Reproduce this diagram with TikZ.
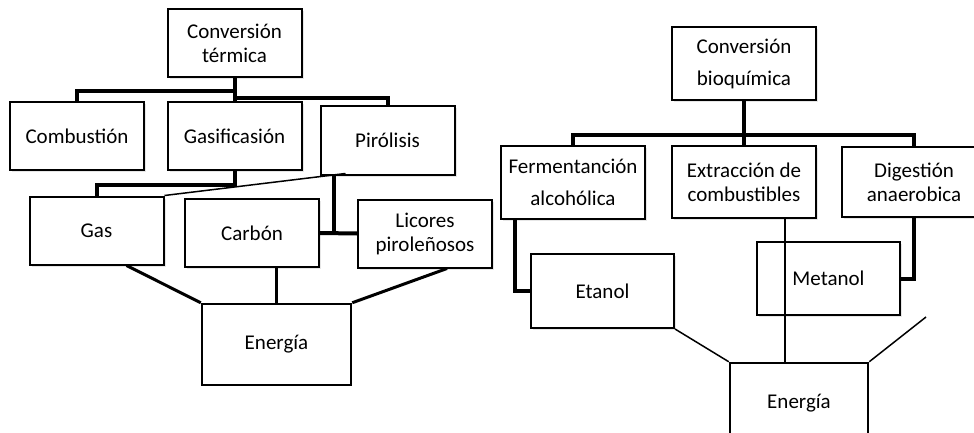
\documentclass[tikz,border=0pt]{standalone}
\usepackage{fontspec}
\setmainfont{Carlito}
\usetikzlibrary{positioning,shadows}

\begin{document}
\begin{tikzpicture}[x=0.5pt, y=-0.5pt,
  boxnode/.style={rectangle, draw=black, line width=1pt, fill=white, align=center,
    minimum width=67pt, minimum height=34pt, inner sep=2pt,
    font=\fontsize{10.5}{12}\selectfont,
    drop shadow={opacity=0.2, shadow xshift=1pt, shadow yshift=-1pt}},
  widebox/.style={boxnode, font=\fontsize{10.5}{16}\selectfont},
  energynode/.style={rectangle, draw=black, line width=1.25pt, fill=white,
    font=\fontsize{10.5}{12}\selectfont},
  thickline/.style={line width=2pt},
  midline/.style={line width=1.5pt},
  thinline/.style={line width=0.75pt}]
\useasboundingbox (0,0) rectangle (974,433);
\clip (0,0) rectangle (974,433);
% Nodes, left tree
\node[boxnode] (termica) at (234.5, 43) {Conversión\\térmica};
\node[boxnode] (comb) at (77, 136) {Combustión};
\node[boxnode] (gasif) at (234.5, 136) {Gasificasión};
\node[boxnode] (piro) at (387.5, 140.5) {Pirólisis};
\node[boxnode] (gas) at (96.5, 230.5) {Gas};
\node[boxnode] (carbon) at (252, 233) {Carbón};
\node[boxnode] (licores) at (425, 233.5) {Licores\\piroleñosos};
\node[energynode, minimum width=74.5pt, minimum height=40.5pt] (enL) at (276.5, 344.5) {Energía};
% Nodes, right tree
\node[widebox, minimum width=72pt, minimum height=36.5pt] (bioq) at (744, 63.5) {Conversión\\bioquímica};
\node[widebox, minimum width=72pt, minimum height=36.5pt] (ferm) at (573, 182.5) {Fermentanción\\alcohólica};
\node[boxnode, minimum width=72pt, minimum height=36pt] (extr) at (744, 182) {Extracción de\\combustibles};
\node[boxnode, minimum width=72pt, minimum height=35pt] (dig) at (914, 182) {Digestión\\anaerobica};
\node[boxnode, minimum width=71.5pt, minimum height=37pt] (etanol) at (602.5, 291) {Etanol};
\node[boxnode, minimum width=71.5pt, minimum height=36.5pt] (metanol) at (828.5, 278.5) {Metanol};
\node[energynode, minimum width=69pt, minimum height=40.5pt] (enR) at (799, 403.5) {Energía};
\coordinate (pdrop) at ([xshift=7pt]piro.south west);
\coordinate (fdrop) at ([xshift=7.5pt]ferm.south west);
\coordinate (xdrop) at ([xshift=-16pt]extr.south east);
\coordinate (loose) at (926, 317);
% Connectors, left tree
\draw[thickline] (termica.south) -- ++(0,13) -| (comb.north);
\draw[thickline] (termica.south) -- (gasif.north);
\draw[thickline] (termica.south) -- ++(0,20) -| (piro.north);
\draw[thickline] (gasif.south) -- ++(0,14) -| (gas.north);
\draw[thinline] (gas.north east) -- ([shift={(26,-2)}]piro.south west);
\draw[thickline] (pdrop) -- (pdrop |- carbon.east);
\draw[thickline] (carbon.east) -- (licores.west);
\draw[midline] ([xshift=15pt]gas.south) -- (enL.north west);
\draw[midline] (enL.north) -- (enL.north |- carbon.south);
\draw[midline] ([xshift=11pt]licores.south) -- (enL.north east);
% Connectors, right tree
\draw[thickline] (bioq.south) -- ++(0,34) -| (ferm.north);
\draw[thickline] (bioq.south) -- (extr.north);
\draw[thickline] (bioq.south) -- ++(0,34) -| (dig.north);
\draw[thickline] (fdrop) |- (etanol.west);
\draw[thickline] (dig.south) |- (metanol.east);
\draw[thinline] (xdrop) -- (xdrop |- enR.north);
\draw[thinline] (etanol.south east) -- (enR.north west);
\draw[thinline] (enR.north east) -- (loose);
\end{tikzpicture}
\end{document}
